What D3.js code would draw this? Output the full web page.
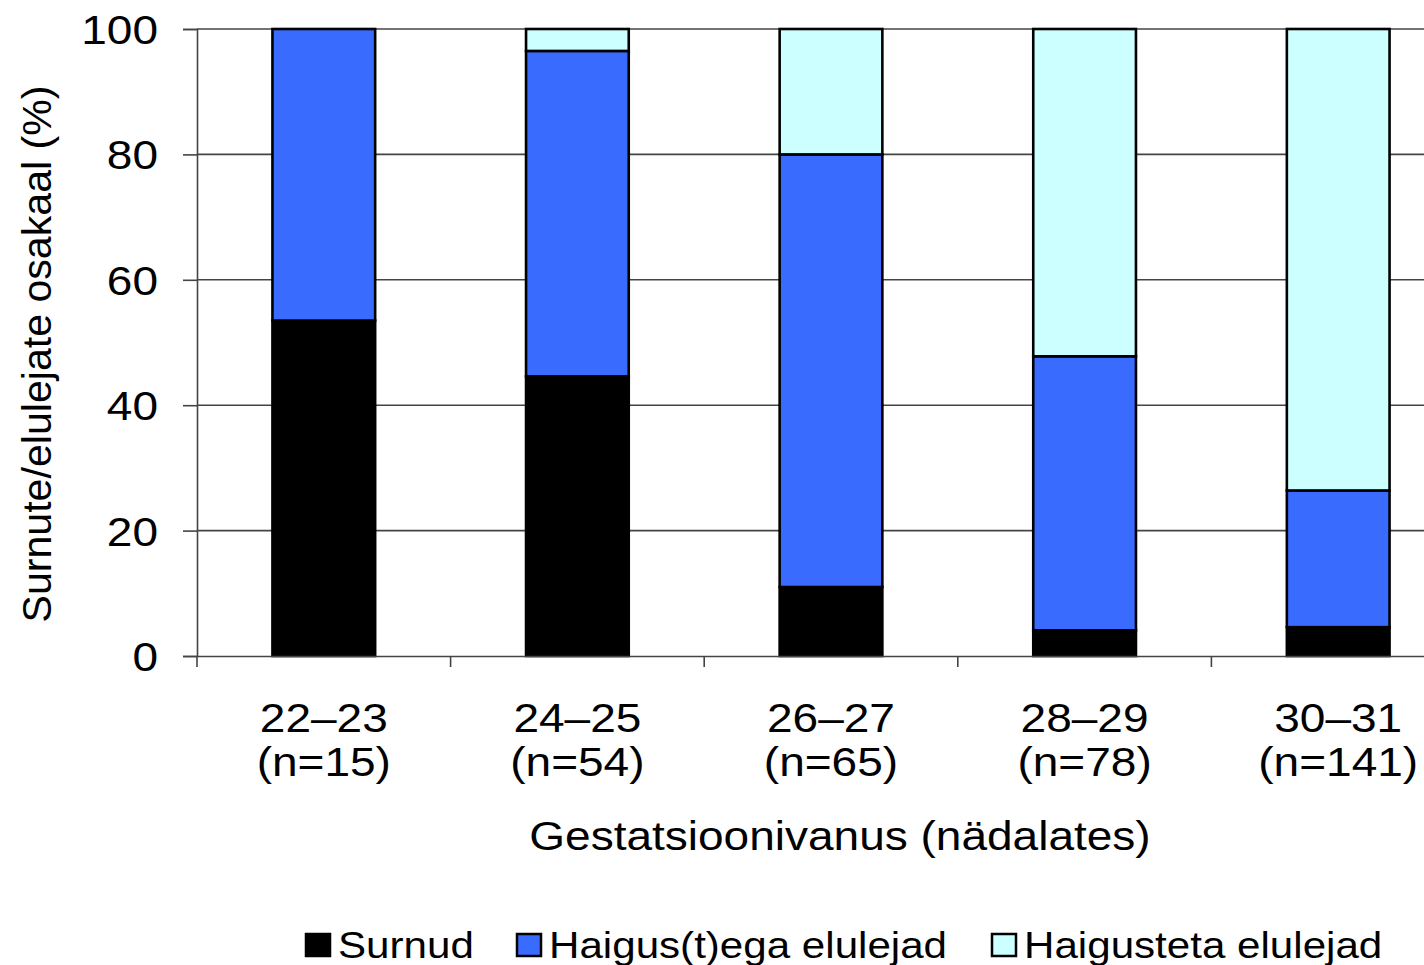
<!DOCTYPE html>
<html>
<head>
<meta charset="utf-8">
<script src="https://cdn.jsdelivr.net/npm/d3@7"></script>
<style>
  html, body { margin: 0; padding: 0; background: #fff; }
  svg { display: block; font-family: "Liberation Sans", Arial, sans-serif; }
</style>
</head>
<body>
<svg id="chart" width="1424" height="965"></svg>
<script>
// ---- Data ----
const categories = ["22–23", "24–25", "26–27", "28–29", "30–31"];
const sampleSizes = ["(n=15)", "(n=54)", "(n=65)", "(n=78)", "(n=141)"];
const seriesNames = ["Surnud", "Haigus(t)ega elulejad", "Haigusteta elulejad"];
const surnud = [53.5, 44.6, 11.0, 4.1, 4.6];
const haigustega = [46.5, 51.9, 69.0, 43.7, 21.8];
const haigusteta = [0, 3.5, 20.0, 52.2, 73.6];
const yTicks = [0, 20, 40, 60, 80, 100];
const xTitle = "Gestatsioonivanus (nädalates)";
const yTitle = "Surnute/elulejate osakaal (%)";
const colors = ["#000000", "#3A6BFF", "#CCFFFF"];

(function () {
// ---- Layout ----
const svg = d3.select("#chart");
const mLeft = 197, mTop = 29, mBottom = 656;
const bandW = 253.6;
const stretch = 1.15;

const x = d3.scaleBand().domain(categories)
  .range([mLeft, mLeft + bandW * categories.length]).padding(0);
const y = d3.scaleLinear().domain([0, 100]).range([mBottom, mTop]);

function stretchText(sel, k) {
  sel.each(function () {
    const len = this.getComputedTextLength();
    d3.select(this).attr("textLength", len * k).attr("lengthAdjust", "spacingAndGlyphs");
  });
}

// gridlines
svg.append("g").selectAll("line").data(yTicks.filter(d => d > 0)).join("line")
  .attr("x1", mLeft).attr("x2", 1424)
  .attr("y1", d => y(d)).attr("y2", d => y(d))
  .attr("stroke", "#444").attr("stroke-width", 1.6);

// stacked bars
const table = categories.map((c, i) => ({ cat: c, s0: surnud[i], s1: haigustega[i], s2: haigusteta[i] }));
const stack = d3.stack().keys(["s0", "s1", "s2"])(table);
const barW = x.bandwidth() * 0.405;
const barOff = (x.bandwidth() - barW) / 2;

stack.forEach((layer, li) => {
  svg.append("g").selectAll("rect").data(layer.filter(d => d[1] - d[0] > 0)).join("rect")
    .attr("x", d => x(d.data.cat) + barOff)
    .attr("width", barW)
    .attr("y", d => y(d[1]))
    .attr("height", d => y(d[0]) - y(d[1]))
    .attr("fill", colors[li])
    .attr("stroke", "#000").attr("stroke-width", 2.6);
});

// y axis
const yAxis = d3.axisLeft(y).tickValues(yTicks).tickSize(14).tickPadding(25).tickFormat(d3.format("d"));
const gy = svg.append("g").attr("transform", `translate(${mLeft},0)`).call(yAxis);
gy.select(".domain").attr("stroke", "#444").attr("stroke-width", 1.6);
gy.selectAll(".tick line").attr("stroke", "#444").attr("stroke-width", 1.6);
gy.selectAll(".tick text").attr("font-size", 40).attr("fill", "#000")
  .attr("font-family", "Liberation Sans, Arial, sans-serif").attr("dy", "0.36em")
  .call(stretchText, stretch);

// x axis
const xAxis = d3.axisBottom(x).tickValues([]).tickSizeOuter(0);
const gx = svg.append("g").attr("transform", `translate(0,${mBottom})`).call(xAxis);
gx.select(".domain").attr("stroke", "#444").attr("stroke-width", 1.6);
const boundaries = categories.map(c => x(c));
gx.selectAll("line.bt").data(boundaries).join("line").attr("class", "bt")
  .attr("x1", d => d).attr("x2", d => d).attr("y1", 0).attr("y2", 11)
  .attr("stroke", "#444").attr("stroke-width", 1.6);

// category labels
const labels = svg.append("g");
labels.selectAll("text.cat").data(categories).join("text").attr("class", "cat")
  .attr("x", d => x(d) + x.bandwidth() / 2).attr("y", 732)
  .attr("text-anchor", "middle").attr("font-size", 40).text(d => d)
  .call(stretchText, stretch);
labels.selectAll("text.n").data(sampleSizes).join("text").attr("class", "n")
  .attr("x", (d, i) => x(categories[i]) + x.bandwidth() / 2).attr("y", 776)
  .attr("text-anchor", "middle").attr("font-size", 40).text(d => d)
  .call(stretchText, stretch);

// axis titles
svg.append("text").attr("x", 840).attr("y", 850).attr("text-anchor", "middle")
  .attr("font-size", 40).text(xTitle).call(stretchText, stretch);

svg.append("text").attr("transform", "translate(51,354) rotate(-90)")
  .attr("text-anchor", "middle").attr("font-size", 40)
  .text(yTitle)
  .attr("textLength", 537).attr("lengthAdjust", "spacingAndGlyphs");

// legend
const legendX = [306, 517, 992];
const lg = svg.append("g");
seriesNames.forEach((name, i) => {
  lg.append("rect").attr("x", legendX[i]).attr("y", 934).attr("width", 24).attr("height", 22)
    .attr("fill", colors[i]).attr("stroke", "#000").attr("stroke-width", 2.5);
  lg.append("text").attr("x", legendX[i] + 32).attr("y", 958).attr("font-size", 36)
    .text(name).call(stretchText, 1.17);
});
})();
</script>
</body>
</html>
